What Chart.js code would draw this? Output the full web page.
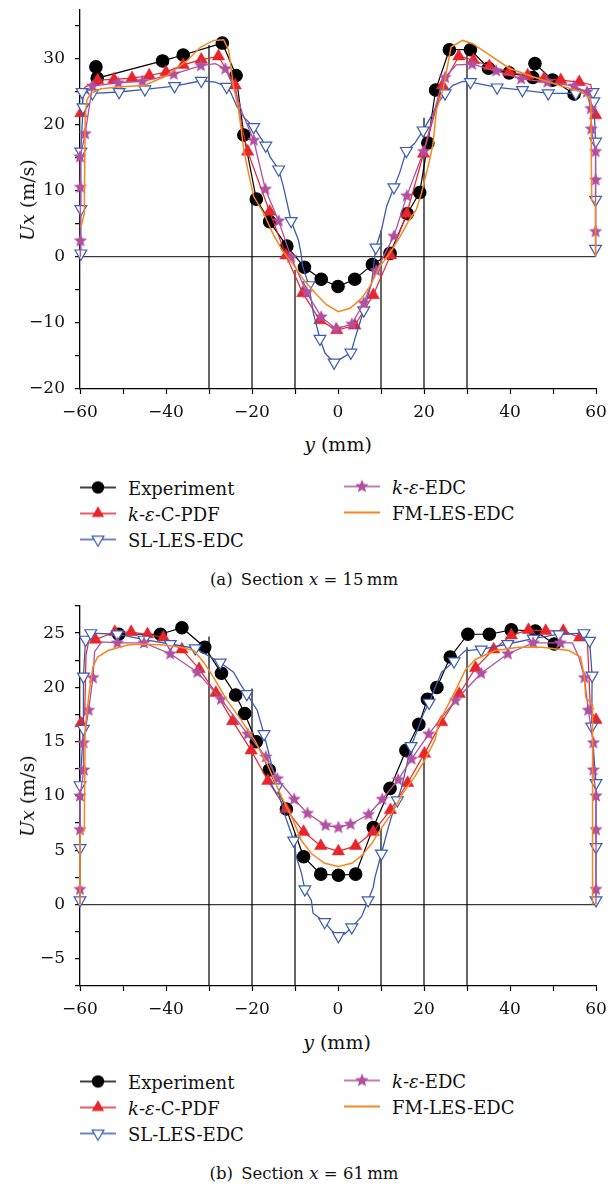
<!DOCTYPE html>
<html lang="en">
<head>
<meta charset="UTF-8">
<title>Ux profiles</title>
<script src="https://cdn.jsdelivr.net/npm/chart.js"></script>
<style>
  body { margin: 0; background: #fff; font-family: "DejaVu Serif", serif; color: #111; }
  #page { position: relative; width: 608px; height: 1186px; overflow: hidden; }
  canvas.plot { position: absolute; left: 0; }
  .ttl { position: absolute; white-space: nowrap; font-size: 19px; }
  .ytitle { transform: translate(-50%, -50%) rotate(-90deg); }
  .xtitle { transform: translate(-50%, -50%); }
  .cap { position: absolute; left: 0; width: 608px; text-align: center; font-size: 16.5px; transform: translateY(-50%); }
  .leg { position: absolute; display: flex; align-items: center; font-size: 18px; transform: translateY(-50%); white-space: nowrap; }
  .leg canvas { margin-right: 12px; }
</style>
</head>
<body>
<div id="page">
  <canvas class="plot" id="chartA" width="608" height="432" style="top:0"></canvas>
  <canvas class="plot" id="chartB" width="608" height="433" style="top:596px"></canvas>

  <div class="ttl ytitle" style="left:27px; top:200px"><i>Ux</i> (m/s)</div>
  <div class="ttl xtitle" style="left:338px; top:444px"><i>y</i> (mm)</div>
  <div class="cap" style="top:579px">(a)&ensp;Section <i>x</i> = 15&thinsp;mm</div>

  <div class="ttl ytitle" style="left:27px; top:796px"><i>Ux</i> (m/s)</div>
  <div class="ttl xtitle" style="left:337px; top:1042px"><i>y</i> (mm)</div>
  <div class="cap" style="top:1173px">(b)&ensp;Section <i>x</i> = 61&thinsp;mm</div>
</div>

<script>
// axis ticks
const xTicks = [-60, -50, -40, -30, -20, -10, 0, 10, 20, 30, 40, 50, 60];
const xLabels = [-60, -40, -20, 0, 20, 40, 60];
const yTicksA = [-20, -15, -10, -5, 0, 5, 10, 15, 20, 25, 30, 35];
const yLabelsA = [-20, -10, 0, 10, 20, 30];
const yTicksB = [-7.5, -5, -2.5, 0, 2.5, 5, 7.5, 10, 12.5, 15, 17.5, 20, 22.5, 25, 27.5];
const yLabelsB = [-5, 0, 5, 10, 15, 20, 25];

const seriesNames = ['Experiment', '<i>k</i>-<i>ε</i>-C-PDF', 'SL-LES-EDC', '<i>k</i>-<i>ε</i>-EDC', 'FM-LES-EDC'];

// probe lines (y position in mm and height they reach)
const probeX = [-30, -20, -10, 10, 20, 30];
const probeTopA = [32, 9, -2, 4, 21, 31];
const probeTopB = [24.7, 19.9, 6.5, 7.0, 14.2, 23.7];

// ---------- section x = 15 mm ----------
const expA = [[-56.3,28.7],[-56.0,27.0],[-40.8,29.6],[-36.0,30.5],[-26.9,32.3],[-23.7,27.4],[-21.9,18.4],[-19.0,8.7],[-15.9,5.3],[-11.9,1.6],[-7.8,-1.6],[-3.9,-3.4],[0.0,-4.5],[3.9,-3.4],[8.0,-1.2],[12.1,0.5],[16.1,6.5],[19.0,9.7],[20.9,17.2],[22.7,25.2],[25.9,31.3],[30.8,31.3],[35.0,28.5],[39.8,27.8],[45.3,27.1],[45.8,29.2],[49.9,26.7],[54.9,24.6]];

const pdfMarkA = [[-59.8,21.7],[-55.9,26.7],[-52.1,26.8],[-47.9,27.0],[-43.9,27.4],[-40.0,27.9],[-36.0,29.0],[-31.8,29.8],[-27.8,30.3],[-23.9,25.9],[-21.0,15.9],[-15.9,6.8],[-12.1,0.2],[-8.2,-5.5],[-4.2,-9.6],[-0.3,-11.1],[3.9,-10.4],[8.2,-5.8],[12.2,0.2],[16.0,6.5],[19.9,15.6],[24.3,25.9],[28.1,30.3],[31.5,29.7],[35.2,28.8],[39.8,27.9],[44.1,27.4],[47.9,26.9],[51.8,26.7],[56.1,26.4],[59.9,21.4]];
const pdfLineA = [[-59.8,21.7],[-58.9,25.6],[-55.9,26.7],[-52.1,26.8],[-47.9,27.0],[-43.9,27.4],[-40.0,27.9],[-36.0,29.0],[-31.8,29.8],[-27.8,30.3],[-23.9,25.9],[-22.5,20.0],[-21.0,15.9],[-15.9,6.8],[-12.1,0.2],[-8.2,-5.5],[-4.2,-9.6],[-0.3,-11.1],[3.9,-10.4],[8.2,-5.8],[12.2,0.2],[16.0,6.5],[19.9,15.6],[24.3,25.9],[28.1,30.3],[31.5,29.7],[35.2,28.8],[39.8,27.9],[44.1,27.4],[47.9,26.9],[51.8,26.7],[56.1,26.4],[58.8,26.0],[59.9,21.4]];

const slMarkA = [[-59.8,0.5],[-59.8,7.2],[-59.8,15.9],[-59.3,22.6],[-59.5,24.9],[-57.1,24.7],[-50.9,24.9],[-44.9,25.3],[-38.0,25.8],[-31.8,26.6],[-25.9,25.7],[-19.6,19.6],[-16.8,16.8],[-13.8,13.2],[-10.9,5.4],[-6.8,-4.3],[-4.2,-12.4],[-0.9,-16.0],[3.0,-14.5],[6.0,-8.1],[8.8,1.4],[13.0,10.5],[15.9,16.0],[19.8,19.1],[24.9,24.7],[30.8,26.4],[37.0,25.6],[42.9,25.2],[48.9,24.7],[55.3,24.7],[59.3,24.9],[59.5,23.5],[59.9,17.4],[59.9,8.6],[59.9,1.2]];
const slLineA = [[-59.8,0],[-59.8,0.5],[-59.8,7.2],[-59.8,15.9],[-59.3,22.6],[-59.5,24.9],[-57.1,24.7],[-50.9,24.9],[-44.9,25.3],[-38.0,25.8],[-31.8,26.6],[-28.5,26.4],[-25.9,25.7],[-25.0,24.9],[-23.5,22.7],[-21.9,21.1],[-19.6,19.6],[-18.2,18.2],[-16.8,16.8],[-15.8,15.1],[-13.8,13.2],[-12.7,10.6],[-10.9,5.4],[-9.2,2.5],[-8.6,0.5],[-8.2,-1.5],[-6.8,-4.3],[-5.7,-8.6],[-4.2,-12.4],[-3.0,-14.6],[-0.9,-16.0],[1.0,-15.3],[3.0,-14.5],[4.3,-11.6],[6.0,-8.1],[7.8,-4.0],[8.8,1.4],[10.1,4.0],[11.3,7.6],[13.0,10.5],[14.3,12.6],[15.9,16.0],[17.8,17.1],[19.8,19.1],[22.1,21.7],[23.2,23.2],[24.9,24.7],[26.7,25.9],[29.0,26.5],[30.8,26.4],[37.0,25.6],[42.9,25.2],[48.9,24.7],[55.3,24.7],[59.3,24.9],[59.5,23.5],[59.9,17.4],[59.9,8.6],[59.9,1.2],[59.9,0]];

const edcMarkA = [[-59.9,2.4],[-59.9,10.5],[-60.0,15.1],[-58.8,18.6],[-57.1,25.8],[-51.1,26.3],[-45.5,26.5],[-38.2,27.6],[-31.9,28.9],[-26.2,28.4],[-19.6,17.6],[-16.9,10.2],[-13.8,5.4],[-10.9,-0.1],[-7.3,-5.4],[-3.9,-9.1],[-0.5,-10.9],[3.2,-10.2],[6.0,-7.0],[8.9,-2.1],[13.0,3.1],[16.0,9.2],[19.9,15.9],[24.9,27.1],[31.2,29.1],[36.8,28.1],[42.6,26.9],[48.7,26.4],[54.9,25.8],[57.9,24.9],[58.8,22.4],[58.9,19.3],[59.9,15.9],[59.9,11.6],[59.9,3.8]];
const edcLineA = [[-59.9,0],[-59.9,2.4],[-59.9,10.5],[-60.0,15.1],[-58.8,18.6],[-57.1,25.8],[-51.1,26.3],[-45.5,26.5],[-38.2,27.6],[-31.9,28.9],[-28.5,29.2],[-26.2,28.4],[-24.0,25.3],[-22.3,21.8],[-19.6,17.6],[-16.9,10.2],[-13.8,5.4],[-10.9,-0.1],[-7.3,-5.4],[-3.9,-9.1],[-0.5,-10.9],[3.2,-10.2],[6.0,-7.0],[8.9,-2.1],[13.0,3.1],[16.0,9.2],[19.9,15.9],[22.0,21.0],[23.5,24.7],[24.9,27.1],[27.5,29.0],[31.2,29.1],[36.8,28.1],[42.6,26.9],[48.7,26.4],[54.9,25.8],[57.9,24.9],[58.8,22.4],[58.9,19.3],[59.9,15.9],[59.9,11.6],[59.9,3.8],[59.9,0]];

const fmLineA = [[-59.8,4.5],[-59.0,6.5],[-58.8,21.1],[-58.4,23.7],[-57.5,24.7],[-55.1,25.4],[-50.5,25.7],[-45.1,25.9],[-39.7,27.4],[-35.0,29.7],[-31.9,31.7],[-28.9,32.7],[-26.6,32.8],[-25.4,31.2],[-24.3,25.7],[-23.1,22.2],[-21.9,16.1],[-20.8,12.6],[-19.6,9.1],[-17.3,6.6],[-15.0,3.3],[-12.7,0.7],[-10.4,-1.2],[-8.0,-3.5],[-4.9,-5.8],[-2.6,-7.3],[0.1,-8.3],[2.8,-7.8],[5.5,-6.3],[7.4,-4.5],[9.7,-1.5],[12.0,0.5],[14.4,3.0],[16.5,5.5],[18.2,7.1],[19.4,9.6],[21.3,14.6],[22.1,17.1],[22.9,22.2],[24.4,25.2],[26.3,31.7],[29.0,32.7],[31.3,32.2],[35.2,30.5],[39.8,28.5],[45.3,27.2],[51.4,25.9],[56.8,24.9],[58.8,23.7],[59.0,8.6],[59.9,8.1],[59.9,0]];

// ---------- section x = 61 mm ----------
const expB = [[-51.0,24.9],[-41.3,24.9],[-36.3,25.5],[-31.0,23.7],[-27.1,21.3],[-23.8,19.3],[-21.7,17.6],[-19.0,15.0],[-16.0,12.4],[-12.0,8.8],[-8.0,4.4],[-4.0,2.8],[0.1,2.7],[4.1,2.8],[8.2,7.1],[12.1,10.7],[15.8,14.2],[18.8,16.6],[20.8,18.9],[23.0,20.0],[26.1,22.8],[30.2,24.9],[35.2,24.9],[40.3,25.3],[45.9,25.2],[50.3,24.0]];

const pdfMarkB = [[-59.8,16.7],[-56.4,24.4],[-51.9,25.1],[-48.1,25.1],[-44.3,24.9],[-40.6,24.6],[-36.3,23.5],[-32.3,21.7],[-28.4,19.5],[-24.5,16.9],[-20.2,14.2],[-16.3,11.4],[-12.1,8.8],[-8.0,6.7],[-4.0,5.4],[0.1,4.9],[4.1,5.4],[8.2,6.7],[12.2,8.7],[16.2,11.2],[20.1,13.9],[24.1,16.8],[28.2,19.4],[32.0,21.8],[36.2,23.5],[40.3,24.8],[44.3,25.3],[48.3,25.2],[52.4,25.2],[56.2,24.6],[60.0,17.0]];
const pdfLineB = [[-59.8,16.7],[-58.9,17.6],[-58.6,23.0],[-57.8,24.6],[-56.4,24.4],[-51.9,25.1],[-48.1,25.1],[-44.3,24.9],[-40.6,24.6],[-36.3,23.5],[-32.3,21.7],[-28.4,19.5],[-24.5,16.9],[-20.2,14.2],[-16.3,11.4],[-12.1,8.8],[-8.0,6.7],[-4.0,5.4],[0.1,4.9],[4.1,5.4],[8.2,6.7],[12.2,8.7],[16.2,11.2],[20.1,13.9],[24.1,16.8],[28.2,19.4],[32.0,21.8],[36.2,23.5],[40.3,24.8],[44.3,25.3],[48.3,25.2],[52.4,25.2],[56.2,24.6],[58.0,24.3],[58.7,18.0],[60.0,17.0]];

const slMarkB = [[-60.0,0.4],[-60.0,5.2],[-60.0,11.0],[-59.2,16.2],[-59.2,21.0],[-58.7,24.4],[-57.5,25.0],[-51.3,24.9],[-45.1,24.4],[-39.0,24.0],[-33.2,23.6],[-27.4,22.3],[-21.2,19.4],[-17.2,15.7],[-14.2,10.8],[-10.3,5.9],[-7.7,1.4],[-3.1,-1.6],[0.1,-2.9],[3.2,-2.1],[7.0,0.4],[10.1,4.7],[13.8,9.6],[17.0,14.6],[21.2,18.6],[27.0,22.4],[33.3,23.5],[39.5,24.0],[45.4,24.5],[51.4,24.9],[57.2,25.0],[58.5,24.3],[59.1,21.1],[59.0,16.4],[60.0,11.2],[60.0,5.3],[60.0,0.4]];
const slLineB = [[-60.0,0],[-60.0,0.4],[-60.0,5.2],[-60.0,11.0],[-59.2,16.2],[-59.2,21.0],[-58.7,24.4],[-57.5,25.0],[-51.3,24.9],[-45.1,24.4],[-39.0,24.0],[-33.2,23.6],[-27.4,22.3],[-24.3,21.4],[-22.7,20.3],[-21.2,19.4],[-18.8,17.9],[-17.2,15.7],[-15.7,13.3],[-14.2,10.8],[-12.5,8.4],[-10.3,5.9],[-9.7,4.4],[-8.5,2.9],[-7.7,1.4],[-6.2,0.4],[-5.8,-0.8],[-3.1,-1.6],[-1.5,-2.4],[0.1,-2.9],[1.6,-2.7],[3.2,-2.1],[5.5,-1.1],[7.0,0.4],[8.2,1.6],[8.6,2.5],[10.1,4.7],[11.7,7.1],[12.9,8.7],[13.8,9.6],[14.8,10.8],[15.9,12.7],[17.0,14.6],[18.7,16.3],[19.9,17.6],[21.2,18.6],[22.6,20.0],[24.1,21.4],[27.0,22.4],[29.6,23.4],[33.3,23.5],[39.5,24.0],[45.4,24.5],[51.4,24.9],[57.2,25.0],[58.5,24.3],[59.1,21.1],[59.0,16.4],[60.0,11.2],[60.0,5.3],[60.0,0.4],[60.0,0]];

const edcMarkB = [[-60.0,1.4],[-60.0,6.9],[-60.0,10.0],[-59.1,12.4],[-59.2,14.9],[-58.0,17.9],[-57.0,20.9],[-51.3,24.1],[-45.1,24.1],[-39.0,23.1],[-32.7,21.4],[-27.2,18.9],[-21.0,15.7],[-16.8,13.6],[-14.1,11.6],[-10.2,9.7],[-7.1,8.4],[-2.9,7.3],[0.1,7.1],[2.9,7.4],[7.1,8.3],[10.3,9.7],[14.0,11.5],[17.1,13.4],[21.1,15.7],[27.3,18.8],[33.3,21.3],[39.5,23.1],[45.4,24.1],[51.7,24.1],[57.3,20.9],[58.2,17.9],[59.4,14.9],[59.4,12.4],[60.0,10.0],[60.0,6.9],[60.0,1.4]];
const edcLineB = [[-60.0,0],[-60.0,1.4],[-60.0,6.9],[-60.0,10.0],[-59.1,12.4],[-59.2,14.9],[-58.0,17.9],[-57.0,20.9],[-56.6,23.3],[-55.0,24.2],[-51.3,24.1],[-45.1,24.1],[-39.0,23.1],[-32.7,21.4],[-27.2,18.9],[-21.0,15.7],[-16.8,13.6],[-14.1,11.6],[-10.2,9.7],[-7.1,8.4],[-2.9,7.3],[0.1,7.1],[2.9,7.4],[7.1,8.3],[10.3,9.7],[14.0,11.5],[17.1,13.4],[21.1,15.7],[27.3,18.8],[33.3,21.3],[39.5,23.1],[45.4,24.1],[51.7,24.1],[54.5,24.1],[56.0,22.8],[57.3,20.9],[58.2,17.9],[59.4,14.9],[59.4,12.4],[60.0,10.0],[60.0,6.9],[60.0,1.4],[60.0,0]];

const fmLineB = [[-60.0,0],[-60.0,6.5],[-59.0,6.8],[-58.8,16.3],[-57.8,19.7],[-57.0,21.9],[-55.9,22.8],[-53.5,23.4],[-48.9,23.9],[-45.8,24.0],[-40.4,23.9],[-36.6,23.7],[-33.5,23.4],[-31.2,22.3],[-28.9,20.9],[-25.8,18.8],[-22.7,17.1],[-20.4,15.7],[-19.3,15.1],[-16.2,12.7],[-13.1,9.9],[-10.8,8.1],[-8.5,5.9],[-6.2,4.7],[-3.1,3.8],[0.1,3.5],[3.2,3.8],[5.5,4.5],[7.8,5.6],[10.0,7.0],[12.5,8.4],[15.0,10.2],[17.9,11.8],[20.3,13.4],[22.6,15.2],[23.4,16.7],[27.3,19.7],[29.6,21.6],[32.0,22.6],[36.6,23.4],[42.0,23.7],[47.5,23.7],[53.7,23.4],[56.4,22.8],[57.3,21.0],[57.6,19.1],[59.2,18.4],[59.2,0]];

// ---------- styles ----------
const BLACK = '#000000', RED = '#e8252c', BLUE = '#3b5cb0', PURPLE = '#b0509f', ORANGE = '#f5871f';

function starImage(color, R) {
  const c = document.createElement('canvas');
  const s = Math.ceil(R * 2 + 2);
  c.width = c.height = s;
  const g = c.getContext('2d');
  g.fillStyle = color;
  g.beginPath();
  for (let i = 0; i < 10; i++) {
    const r = i % 2 ? R * 0.45 : R;
    const a = -Math.PI / 2 + i * Math.PI / 5;
    const px = s / 2 + r * Math.cos(a), py = s / 2 + r * Math.sin(a);
    if (i) g.lineTo(px, py); else g.moveTo(px, py);
  }
  g.closePath();
  g.fill();
  return c;
}
const star = starImage(PURPLE, 7);

const pts = arr => arr.map(p => ({ x: p[0], y: p[1] }));

function lineSet(arr, color, width) {
  return { data: pts(arr), showLine: true, borderColor: color, borderWidth: width,
           pointRadius: 0, tension: 0, clip: false };
}
function markSet(arr, opt) {
  return Object.assign({ data: pts(arr), showLine: false, pointBorderWidth: 1.2, clip: false }, opt);
}
function probeSet(tops, yMin) {
  const d = [];
  probeX.forEach((x, i) => { d.push({ x: x, y: yMin }, { x: x, y: tops[i] }, { x: x, y: null }); });
  return { data: d, showLine: true, spanGaps: false, borderColor: '#000', borderWidth: 1.2, pointRadius: 0, clip: false };
}

const circleOpt = { pointStyle: 'circle', pointRadius: 6.2, pointBackgroundColor: BLACK, pointBorderColor: BLACK };
const triOpt = { pointStyle: 'triangle', pointRadius: 7.2, pointBackgroundColor: RED, pointBorderColor: RED, pointBorderWidth: 0.5 };
const downOpt = { pointStyle: 'triangle', pointRotation: 180, pointRadius: 6.8, pointBackgroundColor: '#fff', pointBorderColor: BLUE, pointBorderWidth: 1.2 };
const starOpt = { pointStyle: star, pointRadius: 7 };

function buildSets(exp, pdfL, pdfM, slL, slM, edcL, edcM, fmL, tops, yMin) {
  // first dataset is drawn on top
  return [
    lineSet(fmL, ORANGE, 1.5),
    markSet(edcM, starOpt), lineSet(edcL, PURPLE, 1.3),
    markSet(slM, downOpt), lineSet(slL, BLUE, 1.3),
    markSet(pdfM, triOpt), lineSet(pdfL, RED, 1.2),
    markSet(exp, circleOpt), lineSet(exp, BLACK, 1.2),
    probeSet(tops, yMin)
  ];
}

const fmt = v => (v < 0 ? '\u2212' + Math.abs(v) : String(v));
const tickFont = { family: 'DejaVu Serif', size: 17, lineHeight: 1 };

function makeChart(id, sets, yMin, yMax, yTicks, yLabels) {
  return new Chart(document.getElementById(id), {
    type: 'scatter',
    data: { datasets: sets },
    options: {
      responsive: false, animation: false, devicePixelRatio: 1,
      layout: { padding: { top: 10, right: 12, left: 0, bottom: 0 } },
      plugins: { legend: { display: false }, tooltip: { enabled: false } },
      scales: {
        x: {
          type: 'linear', min: -60, max: 60,
          afterBuildTicks: s => { s.ticks = xTicks.map(v => ({ value: v })); },
          afterFit: s => { s.height = 43; s.paddingLeft = 0; s.paddingRight = 0; },
          ticks: { autoSkip: false, maxRotation: 0, padding: 10, color: '#111', font: tickFont,
                   callback: v => xLabels.includes(v) ? fmt(v) : '' },
          grid: { drawOnChartArea: false, tickLength: 5, tickColor: '#000', tickWidth: 1.2 },
          border: { color: '#000', width: 1.3 }
        },
        y: {
          type: 'linear', min: yMin, max: yMax,
          afterBuildTicks: s => { s.ticks = yTicks.map(v => ({ value: v })); },
          afterFit: s => { s.width = 80; s.paddingTop = 0; s.paddingBottom = 0; },
          ticks: { autoSkip: false, padding: 10, color: '#111', font: tickFont,
                   callback: v => yLabels.includes(v) ? fmt(v) : '' },
          grid: { color: c => (c.tick && c.tick.value === 0 ? '#3a3a3a' : 'rgba(0,0,0,0)'),
                  lineWidth: 1.3, tickLength: 5, tickColor: '#000', tickWidth: 1.2 },
          border: { color: '#000', width: 1.3 }
        }
      }
    }
  });
}

makeChart('chartA', buildSets(expA, pdfLineA, pdfMarkA, slLineA, slMarkA, edcLineA, edcMarkA, fmLineA, probeTopA, -20),
          -20, 37.3, yTicksA, yLabelsA);
makeChart('chartB', buildSets(expB, pdfLineB, pdfMarkB, slLineB, slMarkB, edcLineB, edcMarkB, fmLineB, probeTopB, -7.5),
          -7.5, 27.5, yTicksB, yLabelsB);

// ---------- legends ----------
function sample(kind) {
  const c = document.createElement('canvas');
  c.width = 36; c.height = 20;
  const g = c.getContext('2d');
  const color = [BLACK, RED, BLUE, PURPLE, ORANGE][kind];
  g.strokeStyle = color; g.lineWidth = kind === 4 ? 2 : 1.5;
  g.beginPath(); g.moveTo(0, 10); g.lineTo(36, 10); g.stroke();
  if (kind === 0) {
    g.fillStyle = BLACK; g.beginPath(); g.arc(18, 10, 6.2, 0, Math.PI * 2); g.fill();
  } else if (kind === 1) {
    g.fillStyle = RED; g.beginPath();
    g.moveTo(18, 2.8); g.lineTo(24.2, 13.6); g.lineTo(11.8, 13.6); g.closePath(); g.fill();
  } else if (kind === 2) {
    g.fillStyle = '#fff'; g.strokeStyle = BLUE; g.lineWidth = 1.2; g.beginPath();
    g.moveTo(18, 16.8); g.lineTo(23.9, 6.6); g.lineTo(12.1, 6.6); g.closePath(); g.fill(); g.stroke();
  } else if (kind === 3) {
    g.drawImage(star, 18 - star.width / 2, 10 - star.height / 2);
  }
  return c;
}

function legend(top) {
  const spots = [[80, top], [80, top + 26], [80, top + 52], [344, top - 1], [344, top + 25]];
  spots.forEach((p, k) => {
    const d = document.createElement('div');
    d.className = 'leg';
    d.style.left = p[0] + 'px';
    d.style.top = p[1] + 'px';
    d.appendChild(sample(k));
    const s = document.createElement('span');
    s.innerHTML = seriesNames[k];
    d.appendChild(s);
    document.getElementById('page').appendChild(d);
  });
}
legend(487.5);
legend(1081.5);
</script>
</body>
</html>
